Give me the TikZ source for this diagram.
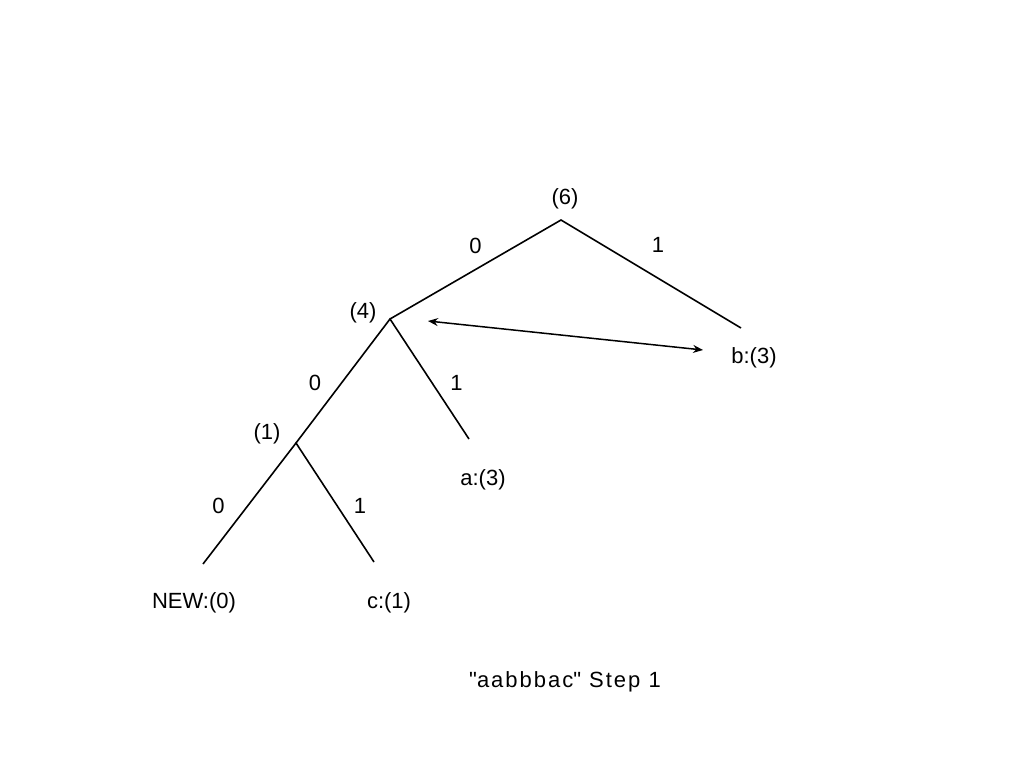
\documentclass[tikz,border=0pt]{standalone}
\usepackage{fontspec}
\setmainfont{Liberation Sans}
\newfontfamily\capfont{Liberation Sans}[LetterSpace=9]
\usetikzlibrary{arrows.meta, positioning}
\tikzstyle{branch} = [draw, line width=1.6pt]
\tikzstyle{swap} = [draw, {Stealth[length=10pt,width=8pt]}-{Stealth[length=10pt,width=8pt]}, line width=1.5pt]
\tikzstyle{lbl} = [font=\fontsize{22}{26}\selectfont, inner sep=0pt, yshift=-2pt]

\begin{document}
\begin{tikzpicture}[x=1pt, y=-1pt]
	\useasboundingbox (0,0) rectangle (1024,768);
	% branch points
	\coordinate (n6) at (561,220);
	\coordinate (n4) at (390,319);
	\coordinate (n1) at (296,443);
	\coordinate (lb) at (741,328);
	\coordinate (la) at (469,439);
	\coordinate (lnew) at (203,564);
	\coordinate (lc) at (374,562);
	% weights and symbols
	\node[lbl] (w6) at (565,197) {(6)};
	\node[lbl] (w4) at (363,311) {(4)};
	\node[lbl] (w1) at (267,432) {(1)};
	\node[lbl] (b) at (754,356) {b:(3)};
	\node[lbl] (a) at (483,478) {a:(3)};
	\node[lbl] (new) at (194,601) {NEW:(0)};
	\node[lbl] (c) at (389,601) {c:(1)};
	% tree
	\draw[branch] (n4) -- node[lbl, pos=0.5, xshift=0pt, yshift=26pt] (e40) {0} (n6) -- node[lbl, pos=0.5, xshift=7pt, yshift=31pt] (e61) {1} (lb);
	\draw[branch] (n1) -- node[lbl, pos=0.5, xshift=-28pt, yshift=0pt] (e10) {0} (n4) -- node[lbl, pos=0.5, xshift=27pt, yshift=-2pt] (e41) {1} (la);
	\draw[branch] (lnew) -- node[lbl, pos=0.5, xshift=-31pt, yshift=0pt] (e00) {0} (n1) -- node[lbl, pos=0.5, xshift=25pt, yshift=-1pt] (e11) {1} (lc);
	% swap
	\coordinate (sl) at (428,321);
	\coordinate (sr) at (703,350);
	\draw[swap] (sl) -- (sr);
	\node[lbl, font=\capfont\fontsize{22}{26}\selectfont] (cap) at (565,680) {\textquotedbl aabbbac\textquotedbl{} Step 1};
\end{tikzpicture}
\end{document}
